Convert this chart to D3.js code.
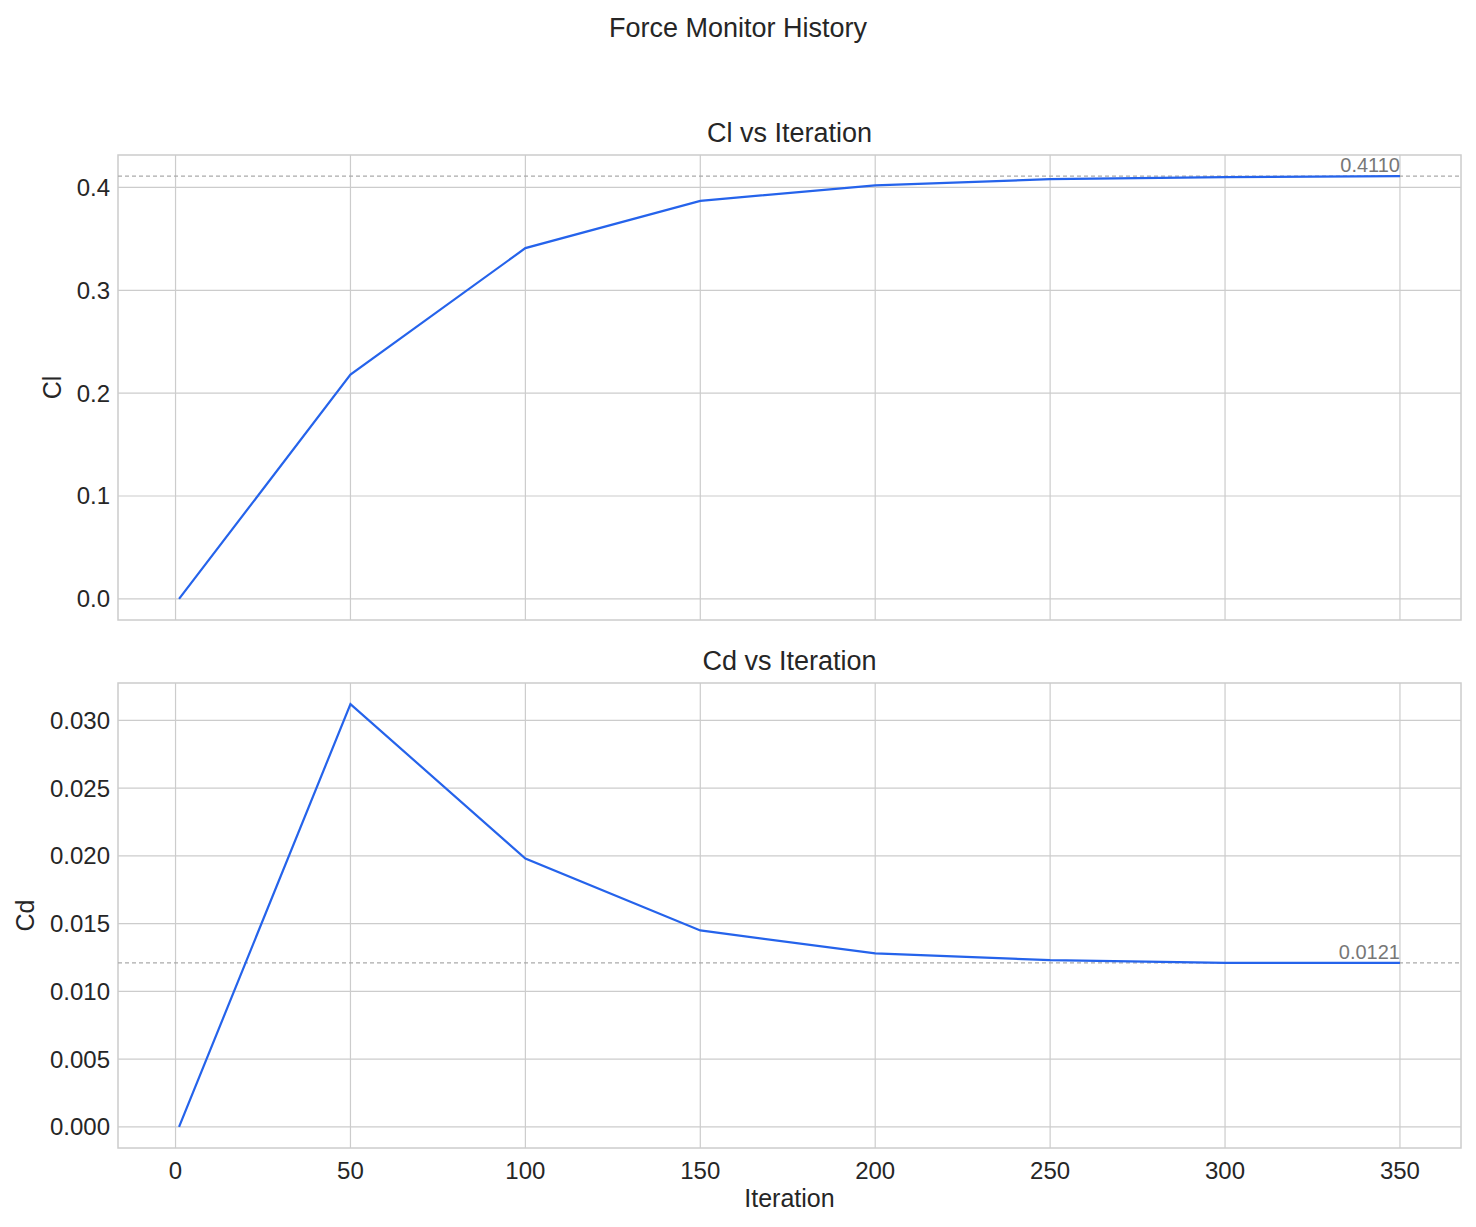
<!DOCTYPE html>
<html><head><meta charset="utf-8">
<script src="https://cdn.jsdelivr.net/npm/d3@7"></script>
<style>body{margin:0;background:#fff}text{font-family:"Liberation Sans",Arial,sans-serif;fill:#262626}</style>
</head><body>
<svg id="c" width="1476" height="1227"></svg>
<script>
const iterations=[1,50,100,150,200,250,300,350];
const clValues=[0,0.218,0.341,0.387,0.402,0.408,0.410,0.411];
const cdValues=[0,0.0312,0.0198,0.0145,0.0128,0.0123,0.0121,0.0121];
const xTicks=[0,50,100,150,200,250,300,350];
const clTicks=[0,0.1,0.2,0.3,0.4];
const cdTicks=[0,0.005,0.010,0.015,0.020,0.025,0.030];
const clFinal=0.4110, cdFinal=0.0121;

const svg=d3.select("#c");
const L=118,R=1461;
svg.append("text").attr("x",738).attr("y",37).attr("text-anchor","middle").attr("font-size",27).text("Force Monitor History");
const x=d3.scaleLinear().domain([1-17.45,350+17.45]).range([L,R]);

function panel(top,bot,vals,ticks,fmt,title,label,labelX,final,finalTxt,showX){
  const lo=0,hi=d3.max(vals),m=(hi-lo)*0.05;
  const y=d3.scaleLinear().domain([lo-m,hi+m]).range([bot,top]);
  const g=svg.append("g");
  g.selectAll(".vg").data(xTicks).join("line").attr("x1",d=>x(d)).attr("x2",d=>x(d)).attr("y1",top).attr("y2",bot).attr("stroke","#cccccc").attr("stroke-width",1.2);
  g.selectAll(".hg").data(ticks).join("line").attr("x1",L).attr("x2",R).attr("y1",d=>y(d)).attr("y2",d=>y(d)).attr("stroke","#cccccc").attr("stroke-width",1.2);
  g.append("rect").attr("x",L).attr("y",top).attr("width",R-L).attr("height",bot-top).attr("fill","none").attr("stroke","#cccccc").attr("stroke-width",1.5);
  g.selectAll(".yt").data(ticks).join("text").attr("x",L-8).attr("y",d=>y(d)).attr("dy","0.35em").attr("text-anchor","end").attr("font-size",24).text(fmt);
  if(showX){
    g.selectAll(".xt").data(xTicks).join("text").attr("x",d=>x(d)).attr("y",bot+31).attr("text-anchor","middle").attr("font-size",24).text(d=>d);
    g.append("text").attr("x",(L+R)/2).attr("y",bot+59).attr("text-anchor","middle").attr("font-size",25).text("Iteration");
  }
  g.append("text").attr("x",(L+R)/2).attr("y",top-13).attr("text-anchor","middle").attr("font-size",27).text(title);
  g.append("text").attr("transform",`translate(${labelX},${(top+bot)/2}) rotate(-90)`).attr("text-anchor","middle").attr("font-size",25).text(label);
  g.append("line").attr("x1",L).attr("x2",R).attr("y1",y(final)).attr("y2",y(final)).attr("stroke","#aaaaaa").attr("stroke-width",1.2).attr("stroke-dasharray","4,3");
  g.append("text").attr("x",x(350)).attr("y",y(final)-4).attr("text-anchor","end").attr("font-size",20).style("fill","#777").text(finalTxt);
  const line=d3.line().x((d,i)=>x(iterations[i])).y(d=>y(d));
  g.append("path").attr("d",line(vals)).attr("fill","none").attr("stroke","#2563eb").attr("stroke-width",2.2);
}
panel(155,620,clValues,clTicks,d=>d.toFixed(1),"Cl vs Iteration","Cl",61,clFinal,"0.4110",false);
panel(683,1148,cdValues,cdTicks,d=>d.toFixed(3),"Cd vs Iteration","Cd",34,cdFinal,"0.0121",true);
</script></body></html>
